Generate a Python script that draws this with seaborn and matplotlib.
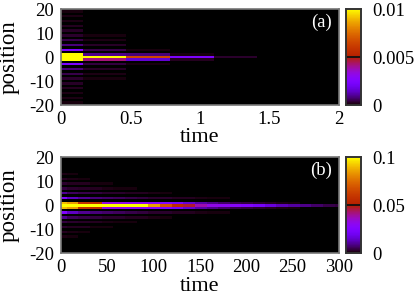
# Two time/position heatmaps with gnuplot style palette
import numpy as np
import matplotlib
matplotlib.use('Agg')
import matplotlib.pyplot as plt
from matplotlib.colors import ListedColormap
import seaborn as sns

plt.rcParams['font.family'] = ['Liberation Serif', 'DejaVu Serif']

positions = list(range(20, -21, -1))
pos_ticks = [20, 10, 0, -10, -20]
pos_labels = ['20', '10', '0', '-10', '-20']

# panel (a), values per time column
a_dt = 0.314
a_ticks = [0, 0.5, 1, 1.5, 2]
a_tick_labels = ['0', '0.5', '1', '1.5', '2']
a_rows = {
    0: [0.0105, 0.0105, 0.0065, 0.0024, 0.0003],
    1: [0.0105, 0.0009, 0.0008, 0.0001],
    -1: [0.0105, 0.0042, 0.0016, 0.0002],
    3: [0.0025, 0.0005, 0.0001],
    -3: [0.0024, 0.0004, 0.0001],
    5: [0.0008, 0.00025],
    -5: [0.0008, 0.00025],
    7: [0.0005, 0.00015],
    -7: [0.0005, 0.00015],
    9: [0.0003, 0.0001],
    -9: [0.0003, 0.0001],
    11: [0.00025],
    -11: [0.00025],
    13: [0.0002],
    -13: [0.0002],
    15: [0.00015],
    -15: [0.00015],
    17: [0.00012],
    -17: [0.00012],
    19: [0.0001],
    -19: [0.0001],
}

# panel (b)
b_dt = 12.566
b_ticks = [0, 50, 100, 150, 200, 250, 300]
b_tick_labels = ['0', '50', '100', '150', '200', '250', '300']
b_center = [0.105, 0.1, 0.1, 0.1, 0.1, 0.1, 0.1, 0.1, 0.085, 0.068, 0.055, 0.047,
            0.038, 0.032, 0.03, 0.028, 0.026, 0.022, 0.017, 0.013, 0.011, 0.009,
            0.007, 0.005, 0.004]
b_side = [0.09, 0.085, 0.058, 0.055, 0.033, 0.032, 0.03, 0.03, 0.028, 0.025, 0.022,
          0.016, 0.012, 0.009, 0.007, 0.005, 0.004, 0.003, 0.002, 0.0015, 0.001]
b_p3 = [0.025, 0.014, 0.01, 0.008, 0.007, 0.006, 0.005, 0.004, 0.003, 0.003, 0.002,
        0.002, 0.0015, 0.001, 0.001]
b_p5 = [0.01, 0.006, 0.005, 0.004, 0.003, 0.003, 0.002, 0.002, 0.0015, 0.001]
b_p7 = [0.004, 0.003, 0.0025, 0.002, 0.0015, 0.001, 0.001]
b_p9 = [0.003, 0.002, 0.002, 0.001, 0.001]
b_p11 = [0.002, 0.0015, 0.001]
b_p13 = [0.0012, 0.001]
b_rows = {0: b_center, 1: b_side, -1: b_side, 3: b_p3, -3: b_p3, 5: b_p5, -5: b_p5,
          7: b_p7, -7: b_p7, 9: b_p9, -9: b_p9, 11: b_p11, -11: b_p11, 13: b_p13, -13: b_p13}


def build(rows, ncols):
    mat = np.zeros((len(positions), ncols))
    for p, vals in rows.items():
        mat[positions.index(p), :len(vals)] = vals
    return mat


# gnuplot 7,5,15 palette
x = np.linspace(0, 1, 256)
pal = ListedColormap(np.c_[np.sqrt(x), x ** 3, np.clip(np.sin(2 * np.pi * x), 0, 1)])

W, H = 415, 297
fig = plt.figure(figsize=(W / 100, H / 100), dpi=100)


def panel(top, rows, ncols, dt, vmax, cb_labels, ticks, tick_labels, tag):
    ax = fig.add_axes([61 / W, 1 - (top + 96) / H, 278 / W, 96 / H])
    cax = fig.add_axes([346 / W, 1 - (top + 96) / H, 14.5 / W, 96 / H])
    sns.heatmap(build(rows, ncols), ax=ax, cmap=pal, vmin=0, vmax=vmax, cbar_ax=cax,
                xticklabels=False, yticklabels=False,
                cbar_kws={'ticks': [0, vmax / 2, vmax]})
    ax.set_xlim(0.5, 0.5 + ticks[-1] / dt)
    ax.set_ylim(40.5, 0.5)
    ax.set_xticks([0.5 + t / dt for t in ticks], tick_labels)
    ax.set_yticks([0.5 + 20 - p for p in pos_ticks], pos_labels)
    ax.tick_params(length=0, labelsize=13.4, pad=5)
    ax.tick_params(axis='x', pad=4)
    for s in ax.spines.values():
        s.set_visible(True)
        s.set_color('#777777')
        s.set_linewidth(1.2)
    ax.set_xlabel('time', fontsize=16, labelpad=0.5)
    ax.set_ylabel('position', fontsize=16.5)
    ax.yaxis.set_label_coords(-0.148, 0.5)
    ax.text(0.975, 0.86, tag, color='white', fontsize=13.4, ha='right', va='center',
            transform=ax.transAxes)
    cax.set_yticklabels(cb_labels)
    cax.tick_params(length=0, labelsize=13.4, pad=8.5)
    cax.axhline(vmax / 2, color='#111111', lw=1.3)
    for s in cax.spines.values():
        s.set_visible(True)
        s.set_color('#333333')
        s.set_linewidth(1.2)


panel(9, a_rows, 7, a_dt, 0.01, ['0', '0.005', '0.01'], a_ticks, a_tick_labels, '(a)')
panel(157.3, b_rows, 25, b_dt, 0.1, ['0', '0.05', '0.1'], b_ticks, b_tick_labels, '(b)')

fig.savefig('out.png', dpi=100)
